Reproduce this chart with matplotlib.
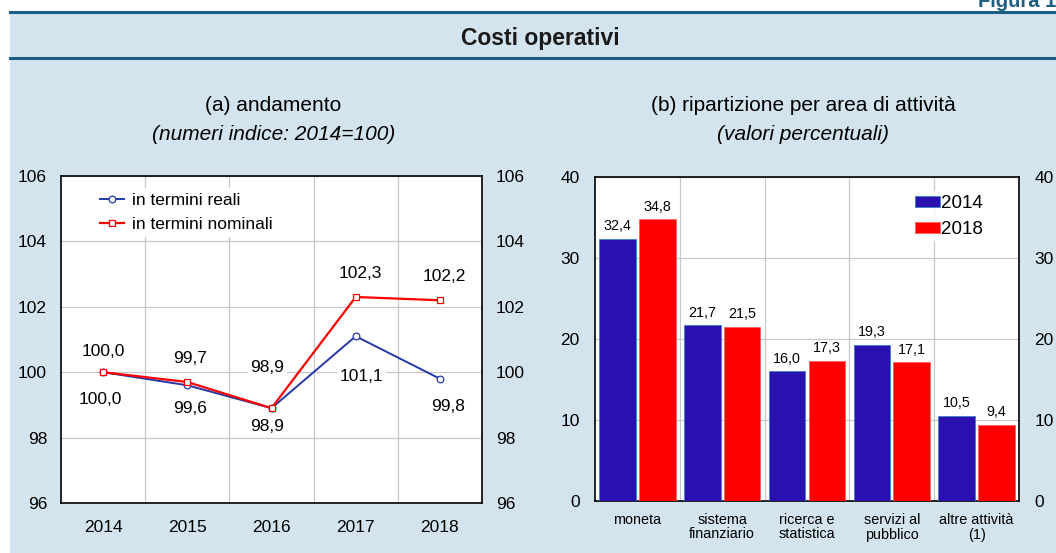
import matplotlib
matplotlib.use("Agg")
import matplotlib.pyplot as plt
import numpy as np
from matplotlib.patches import Rectangle
from matplotlib.lines import Line2D

plt.rcParams['font.family'] = ['Liberation Sans', 'DejaVu Sans']

# ---------------- data ----------------
years = ["2014", "2015", "2016", "2017", "2018"]
reali = [100.0, 99.6, 98.9, 101.1, 99.8]
nominali = [100.0, 99.7, 98.9, 102.3, 102.2]

areas = ["moneta", "sistema\nfinanziario", "ricerca e\nstatistica", "servizi al\npubblico", "altre attività\n(1)"]
v2014 = [32.4, 21.7, 16.0, 19.3, 10.5]
v2018 = [34.8, 21.5, 17.3, 17.1, 9.4]

def fmt(v):
    return f"{v:.1f}".replace(".", ",")

PANEL = "#D3E4EE"
DARK = "#1C5F82"
BLUE_LINE = "#2438A8"
RED = "#FF0000"
BLUE_BAR = "#2A10AE"
GRID = "#C8C8C8"

W, H = 1056, 553
fig = plt.figure(figsize=(W / 100, H / 100), dpi=100)
fig.patch.set_facecolor("white")

def fx(px):
    return px / W

def fy(py):
    return 1 - py / H

# panel background
fig.patches.append(Rectangle((fx(10), 0), 1 - fx(10), fy(12), transform=fig.transFigure,
                             facecolor=PANEL, edgecolor="none", zorder=-10))
for yy in (12, 58):
    fig.lines.append(Line2D([fx(10), 1], [fy(yy), fy(yy)], transform=fig.transFigure,
                            color=DARK, lw=2.2, zorder=-5))
fig.text(fx(1062), fy(7), "Figura 1.", ha="right", va="baseline", fontsize=14.5,
         fontweight="bold", color=DARK)
fig.text(fx(540), fy(38), "Costi operativi", ha="center", va="center", fontsize=16.5,
         fontweight="bold", color="#1a1a1a")

# subtitles
fig.text(fx(273), fy(106), "(a) andamento", ha="center", va="center", fontsize=15)
fig.text(fx(274), fy(134), "(numeri indice: 2014=100)", ha="center", va="center",
         fontsize=15, style="italic")
fig.text(fx(803), fy(106), "(b) ripartizione per area di attività", ha="center",
         va="center", fontsize=15)
fig.text(fx(803), fy(134), "(valori percentuali)", ha="center", va="center",
         fontsize=15, style="italic")

# ---------------- left: line chart ----------------
ax1 = fig.add_axes([fx(61), fy(503), fx(482 - 61), (503 - 176) / H])
ax1.set_facecolor("white")
x = np.arange(len(years))
ax1.plot(x, reali, color=BLUE_LINE, lw=1.4, marker="o", ms=4.8, mfc="white",
         mec=BLUE_LINE, mew=0.9, label="in termini reali", zorder=3)
ax1.plot(x, nominali, color=RED, lw=1.6, marker="s", ms=4.8, mfc="white",
         mec=RED, mew=0.9, label="in termini nominali", zorder=4)
ax1.set_xlim(-0.5, len(years) - 0.5)
ax1.set_ylim(96, 106)
ax1.set_yticks([96, 98, 100, 102, 104, 106])
ax1.set_xticks(x)
ax1.set_xticklabels(years)
ax1.set_xticks(np.arange(0.5, len(years) - 1, 1), minor=True)
ax1.grid(True, which="major", axis="y", color=GRID, lw=0.9)
ax1.grid(True, which="minor", axis="x", color=GRID, lw=0.9)
ax1.tick_params(axis="both", which="both", length=0, labelsize=12.5)
ax1.tick_params(axis="y", pad=10)
ax1.tick_params(axis="x", pad=12)
for s in ax1.spines.values():
    s.set_color("black")
    s.set_linewidth(1.2)
ax1r = ax1.twinx()
ax1r.set_ylim(96, 106)
ax1r.set_yticks([96, 98, 100, 102, 104, 106])
ax1r.tick_params(axis="y", length=0, labelsize=12.5, pad=10)
for s in ax1r.spines.values():
    s.set_visible(False)

nom_off = [(0, 15), (2, 17), (-3, 29), (3, 17), (3, 17)]
real_off = [(-2, -20), (2, -17), (-3, -13), (4, -29), (6, -20)]
for i in range(len(years)):
    ax1.annotate(fmt(nominali[i]), (x[i], nominali[i]), xytext=nom_off[i],
                 textcoords="offset points", ha="center", va="center", fontsize=12.5,
                 bbox=dict(boxstyle="square,pad=0.15", fc="white", ec="none"), zorder=5)
    ax1.annotate(fmt(reali[i]), (x[i], reali[i]), xytext=real_off[i],
                 textcoords="offset points", ha="center", va="center", fontsize=12.5,
                 bbox=dict(boxstyle="square,pad=0.15", fc="white", ec="none"), zorder=5)

leg1 = ax1.legend(loc="upper left", bbox_to_anchor=(0.06, 0.99), fontsize=12.5,
                  frameon=True, fancybox=False, handlelength=1.4, handletextpad=0.45,
                  borderpad=0.3, labelspacing=0.5)
leg1.get_frame().set_facecolor("white")
leg1.get_frame().set_edgecolor("none")
leg1.get_frame().set_alpha(1)

# ---------------- right: bar chart ----------------
ax2 = fig.add_axes([fx(595), fy(501), fx(1019 - 595), (501 - 177) / H])
ax2.set_facecolor("white")
xb = np.arange(len(areas))
bw = 0.43
off = 0.235
ax2.bar(xb - off, v2014, width=bw, color=BLUE_BAR, edgecolor="#3D7FD0", lw=0.6,
        label="2014", zorder=3)
ax2.bar(xb + off, v2018, width=bw, color=RED, edgecolor="#FF6060", lw=0.6,
        label="2018", zorder=3)
ax2.set_xlim(-0.5, len(areas) - 0.5)
ax2.set_ylim(0, 40)
ax2.set_yticks([0, 10, 20, 30, 40])
ax2.set_xticks(xb)
ax2.set_xticklabels(areas, fontsize=10.4, linespacing=1.0)
ax2.set_xticks(np.arange(0.5, len(areas) - 1, 1), minor=True)
ax2.grid(True, which="major", axis="y", color=GRID, lw=0.9, zorder=0)
ax2.grid(True, which="minor", axis="x", color=GRID, lw=0.9, zorder=0)
ax2.set_axisbelow(True)
ax2.tick_params(axis="both", which="both", length=0)
ax2.tick_params(axis="y", labelsize=12.5, pad=11)
ax2.tick_params(axis="x", pad=9)
for s in ax2.spines.values():
    s.set_color("black")
    s.set_linewidth(1.2)
ax2r = ax2.twinx()
ax2r.set_ylim(0, 40)
ax2r.set_yticks([0, 10, 20, 30, 40])
ax2r.tick_params(axis="y", length=0, labelsize=12.5, pad=11)
for s in ax2r.spines.values():
    s.set_visible(False)

for i in range(len(areas)):
    ax2.annotate(fmt(v2014[i]), (xb[i] - off, v2014[i]), xytext=(0, 9),
                 textcoords="offset points", ha="center", va="center", fontsize=10.3)
    ax2.annotate(fmt(v2018[i]), (xb[i] + off, v2018[i]), xytext=(0, 9),
                 textcoords="offset points", ha="center", va="center", fontsize=10.3)

leg2 = ax2.legend(loc="upper right", bbox_to_anchor=(0.945, 0.985), fontsize=13.5,
                  frameon=True, fancybox=False, handlelength=1.3, handleheight=0.55,
                  handletextpad=0.05, borderpad=0.2, labelspacing=0.5)
leg2.get_frame().set_facecolor("white")
leg2.get_frame().set_edgecolor("none")

fig.savefig("out.png", dpi=100, facecolor=fig.get_facecolor())
